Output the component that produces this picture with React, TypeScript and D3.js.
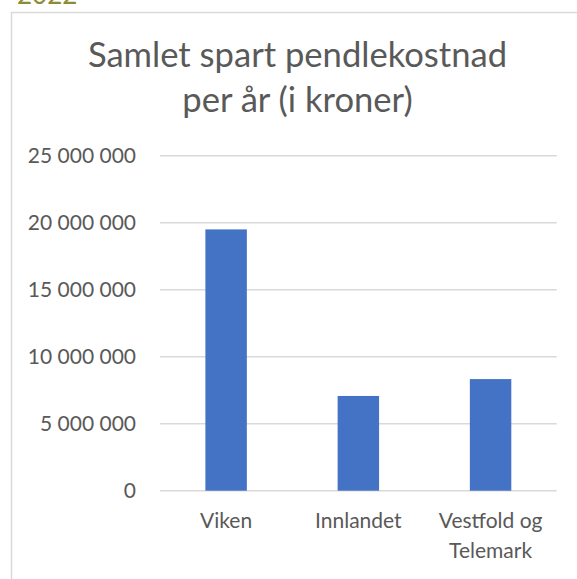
import React from "react";
import * as d3 from "d3";

const categories = ["Viken", "Innlandet", "Vestfold og Telemark"];
const categoryLines = [["Viken"], ["Innlandet"], ["Vestfold og", "Telemark"]];
const values = [19500000, 7070000, 8330000];
const yTicks = [0, 5000000, 10000000, 15000000, 20000000, 25000000];
const titleLines = ["Samlet spart pendlekostnad", "per år (i kroner)"];
const yearLabel = "2022";

const FONT = "Lato, 'Open Sans', sans-serif";

export default function App() {
  const W = 577;
  const H = 579;
  const plotLeft = 160;
  const plotRight = 556.7;
  const plotTop = 155.7;
  const plotBottom = 490.7;

  const x = d3
    .scaleBand<string>()
    .domain(categories)
    .range([plotLeft, plotRight])
    .paddingInner(2.19 / 3.19)
    .paddingOuter(2.19 / 3.19 / 2);
  const y = d3.scaleLinear().domain([0, 25000000]).range([plotBottom, plotTop]);

  const fmt = (v: number) => d3.format(",")(v).replace(/,/g, " ");

  return (
    <svg
      width={W}
      height={H}
      style={{ position: "absolute", left: 0, top: 0, background: "#fff" }}
      fontFamily={FONT}
    >
      <rect x={0} y={0} width={W} height={H} fill="#fff" />
      <text x={17} y={4} fontSize={26} fill="#8c8c38">
        {yearLabel}
      </text>
      <path d={`M11.5,${H + 5} V12.5 H${W + 5}`} fill="none" stroke="#d9d9d9" strokeWidth={1.5} />
      <text x={297.5} y={67} textAnchor="middle" fontSize={34.6} fill="#595959">
        {titleLines[0]}
      </text>
      <text x={297.5} y={112} textAnchor="middle" fontSize={34.6} fill="#595959">
        {titleLines[1]}
      </text>
      {yTicks.map((t) => (
        <g key={t}>
          <line x1={plotLeft} x2={plotRight} y1={y(t)} y2={y(t)} stroke="#d9d9d9" strokeWidth={1.5} />
          <text x={136} y={y(t)} dy="0.36em" textAnchor="end" fontSize={21} fill="#595959">
            {fmt(t)}
          </text>
        </g>
      ))}
      {categories.map((c, i) => (
        <rect
          key={c}
          x={x(c)}
          y={y(values[i])}
          width={x.bandwidth()}
          height={y(0) - y(values[i])}
          fill="#4472c4"
        />
      ))}
      {categories.map((c, i) => (
        <text key={c} textAnchor="middle" fontSize={21} fill="#595959">
          {categoryLines[i].map((l, j) => (
            <tspan key={j} x={(x(c) as number) + x.bandwidth() / 2} y={528 + j * 30}>
              {l}
            </tspan>
          ))}
        </text>
      ))}
    </svg>
  );
}
